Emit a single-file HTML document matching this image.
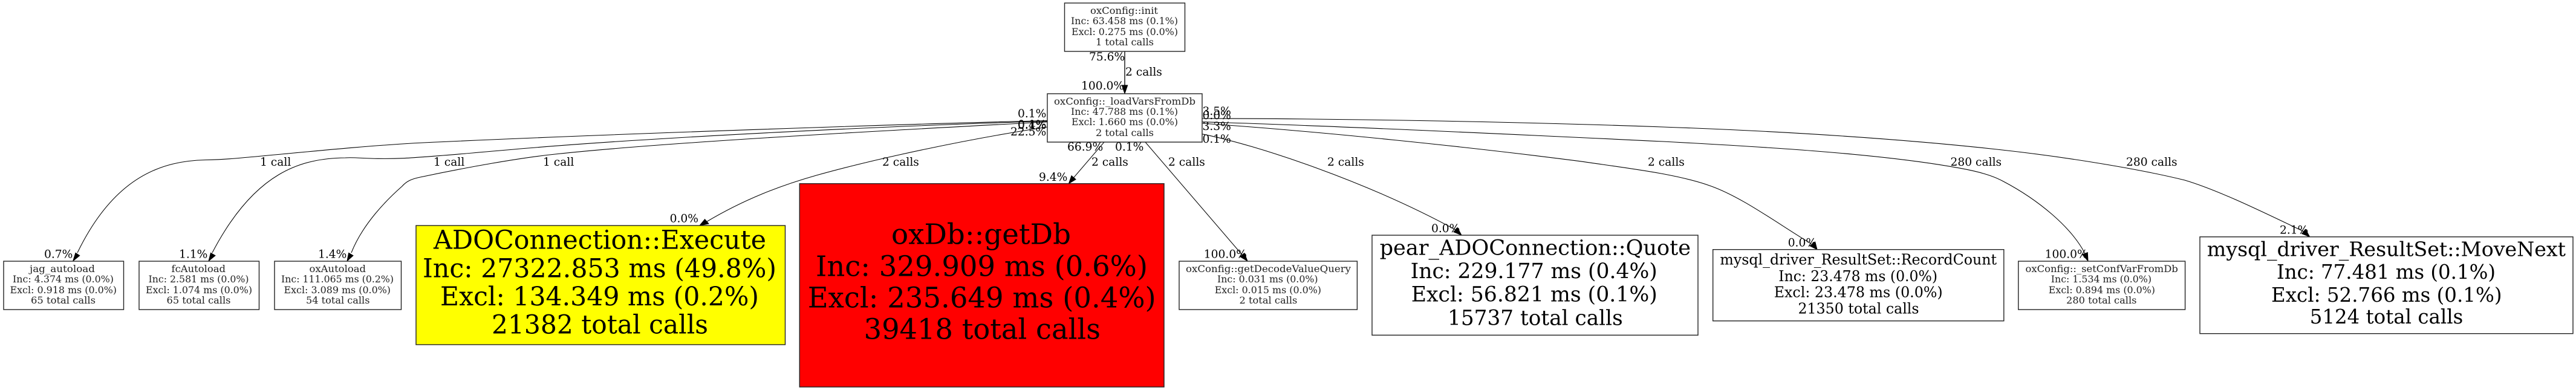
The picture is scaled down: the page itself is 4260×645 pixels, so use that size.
<!DOCTYPE html>
<html>
<head>
<meta charset="utf-8">
<title>Call graph</title>
<style>
html,body{margin:0;padding:0;background:#fff;width:4260px;height:645px;overflow:hidden}
svg{display:block}
text{font-family:"DejaVu Serif","Liberation Serif",serif;fill:#000}
.l{font-size:18.67px}
.s{font-size:16px;fill:#222}
.b{fill:#fff;stroke:#222;stroke-width:1.4}
.e{fill:none;stroke:#000;stroke-width:1.05}
.a{fill:#000;stroke:#000;stroke-width:1}
</style>
</head>
<body>
<svg xmlns="http://www.w3.org/2000/svg" width="4260" height="645" viewBox="0 0 4260 645">
<rect width="4260" height="645" fill="#fff"/>

<!-- edges -->
<path class="e" style="stroke-width:1.33" d="M1860 85V142"/>
<polygon class="a" points="1860,154.7 1855.3,141 1864.7,141"/>

<path class="e" d="M1732 199.5C1500 205,1000 222,700 236C600 241,470 255,400 261C380 263,360 264,340 264.5C270 266,190 290,128 418"/>
<polygon class="a" points="120.7,431.7 125,418.3 131.7,422.7"/>

<path class="e" d="M1732 200.5C1500 207,1100 226,873 245C790 252,720 259,668 261.7C650 262.5,640 262.5,625 262.3C600 262,585 260,571 261C500 262,422 282,351 418"/>
<polygon class="a" points="345,431.7 348.5,418.3 356,422.7"/>

<path class="e" d="M1732 201.7C1500 214,1100 235,918 255C860 261,770 277,695 293C680 296,672 300,665 308C640 330,600 370,581 418"/>
<polygon class="a" points="574,431.7 576.7,418.3 584,422.7"/>

<path class="e" d="M1732 210C1600 230,1450 262,1350 290C1290 307,1230 330,1168 367"/>
<polygon class="a" points="1157,373 1165.6,362.7 1172,370"/>

<path class="e" d="M1826 235L1775.7 293.6"/>
<polygon class="a" points="1767.4,303.7 1779,296.7 1772,290.6"/>

<path class="e" d="M1894 235L2054.3 421.6"/>
<polygon class="a" points="2063,431.7 2057.8,418.6 2050.8,424.6"/>

<path class="e" d="M1988 221.7C2080 240,2260 300,2407 380"/>
<polygon class="a" points="2417,389 2410.2,376.5 2403.9,383.5"/>

<path class="e" d="M1988 204C2180 217,2430 243,2613 266.7C2690 278,2770 287,2826.5 306.7C2880 325,2940 370,2995.6 403.4"/>
<polygon class="a" points="3005,412.7 3001.7,400 2993,406.7"/>

<path class="e" d="M1988 201.7C2150 206,2500 222,2750 234C2900 242,3100 253,3233 276.7C3270 283,3295 290,3313 300C3370 330,3425 375,3448 419.3"/>
<polygon class="a" points="3453,431.7 3452.3,417.6 3443.7,421"/>

<path class="e" d="M1988 196C2200 196,2500 201,2750 210C2950 217,3150 230,3311 248C3420 260,3540 280,3613 298C3670 315,3745 352,3809.7 382.9"/>
<polygon class="a" points="3819.7,391.7 3812.8,379.4 3806.6,386.4"/>

<!-- nodes -->
<rect class="b" x="1760.5" y="5" width="199" height="80"/>
<text class="s" x="1803" y="23" textLength="112" lengthAdjust="spacingAndGlyphs">oxConfig::init</text>
<text class="s" x="1771" y="40" textLength="177" lengthAdjust="spacingAndGlyphs">Inc: 63.458 ms (0.1%)</text>
<text class="s" x="1772" y="58" textLength="176" lengthAdjust="spacingAndGlyphs">Excl: 0.275 ms (0.0%)</text>
<text class="s" x="1812" y="75" textLength="96" lengthAdjust="spacingAndGlyphs">1 total calls</text>

<rect class="b" x="1732" y="155" width="256" height="80"/>
<text class="s" x="1743" y="173" textLength="234" lengthAdjust="spacingAndGlyphs">oxConfig::_loadVarsFromDb</text>
<text class="s" x="1771" y="190" textLength="177" lengthAdjust="spacingAndGlyphs">Inc: 47.788 ms (0.1%)</text>
<text class="s" x="1772" y="207" textLength="176" lengthAdjust="spacingAndGlyphs">Excl: 1.660 ms (0.0%)</text>
<text class="s" x="1812" y="225" textLength="96" lengthAdjust="spacingAndGlyphs">2 total calls</text>

<rect class="b" x="6" y="432" width="198.5" height="80"/>
<text class="s" x="49" y="450" textLength="108" lengthAdjust="spacingAndGlyphs">jag_autoload</text>
<text class="s" x="21" y="467" textLength="167" lengthAdjust="spacingAndGlyphs">Inc: 4.374 ms (0.0%)</text>
<text class="s" x="16.5" y="485" textLength="176.5" lengthAdjust="spacingAndGlyphs">Excl: 0.918 ms (0.0%)</text>
<text class="s" x="51" y="502" textLength="107" lengthAdjust="spacingAndGlyphs">65 total calls</text>

<rect class="b" x="230" y="432" width="198.5" height="80"/>
<text class="s" x="283.5" y="450" textLength="89.5" lengthAdjust="spacingAndGlyphs">fcAutoload</text>
<text class="s" x="245.5" y="467" textLength="166" lengthAdjust="spacingAndGlyphs">Inc: 2.581 ms (0.0%)</text>
<text class="s" x="241" y="485" textLength="176" lengthAdjust="spacingAndGlyphs">Excl: 1.074 ms (0.0%)</text>
<text class="s" x="275.5" y="502" textLength="106" lengthAdjust="spacingAndGlyphs">65 total calls</text>

<rect class="b" x="454" y="432" width="209.5" height="80"/>
<text class="s" x="511.5" y="450" textLength="93.5" lengthAdjust="spacingAndGlyphs">oxAutoload</text>
<text class="s" x="465" y="467" textLength="186" lengthAdjust="spacingAndGlyphs">Inc: 111.065 ms (0.2%)</text>
<text class="s" x="469.5" y="485" textLength="176.5" lengthAdjust="spacingAndGlyphs">Excl: 3.089 ms (0.0%)</text>
<text class="s" x="506" y="502" textLength="105.5" lengthAdjust="spacingAndGlyphs">54 total calls</text>

<rect class="b" x="688" y="373" width="610.5" height="197" style="fill:#ff0"/>
<text style="font-size:42.67px" x="717" y="411.7" textLength="550" lengthAdjust="spacingAndGlyphs">ADOConnection::Execute</text>
<text style="font-size:42.67px" x="699" y="458.3" textLength="585" lengthAdjust="spacingAndGlyphs">Inc: 27322.853 ms (49.8%)</text>
<text style="font-size:42.67px" x="728" y="505" textLength="527" lengthAdjust="spacingAndGlyphs">Excl: 134.349 ms (0.2%)</text>
<text style="font-size:42.67px" x="813" y="551.7" textLength="358" lengthAdjust="spacingAndGlyphs">21382 total calls</text>

<rect class="b" x="1322.3" y="303.7" width="602.7" height="336.3" style="fill:#f00"/>
<text style="font-size:46.67px" x="1474" y="403.3" textLength="297" lengthAdjust="spacingAndGlyphs">oxDb::getDb</text>
<text style="font-size:46.67px" x="1349" y="456.7" textLength="549" lengthAdjust="spacingAndGlyphs">Inc: 329.909 ms (0.6%)</text>
<text style="font-size:46.67px" x="1335.7" y="508.3" textLength="576" lengthAdjust="spacingAndGlyphs">Excl: 235.649 ms (0.4%)</text>
<text style="font-size:46.67px" x="1428.6" y="560.7" textLength="391.4" lengthAdjust="spacingAndGlyphs">39418 total calls</text>

<rect class="b" x="1950" y="432" width="294.4" height="80"/>
<text class="s" x="1961" y="450" textLength="273" lengthAdjust="spacingAndGlyphs">oxConfig::getDecodeValueQuery</text>
<text class="s" x="2013" y="467" textLength="166.6" lengthAdjust="spacingAndGlyphs">Inc: 0.031 ms (0.0%)</text>
<text class="s" x="2008.7" y="485" textLength="176.3" lengthAdjust="spacingAndGlyphs">Excl: 0.015 ms (0.0%)</text>
<text class="s" x="2049.5" y="502" textLength="95.9" lengthAdjust="spacingAndGlyphs">2 total calls</text>

<rect class="b" x="2269" y="389" width="539" height="165.3"/>
<text style="font-size:34.67px" x="2281.6" y="421.7" textLength="514.4" lengthAdjust="spacingAndGlyphs">pear_ADOConnection::Quote</text>
<text style="font-size:34.67px" x="2332.6" y="460" textLength="408.2" lengthAdjust="spacingAndGlyphs">Inc: 229.177 ms (0.4%)</text>
<text style="font-size:34.67px" x="2333.7" y="498.3" textLength="407.1" lengthAdjust="spacingAndGlyphs">Excl: 56.821 ms (0.1%)</text>
<text style="font-size:34.67px" x="2394" y="537.3" textLength="289.7" lengthAdjust="spacingAndGlyphs">15737 total calls</text>

<rect class="b" x="2832.7" y="412.7" width="481.1" height="118"/>
<text style="font-size:24px" x="2844.4" y="437.3" textLength="457.6" lengthAdjust="spacingAndGlyphs">mysql_driver_ResultSet::RecordCount</text>
<text style="font-size:24px" x="2941.3" y="465" textLength="262.7" lengthAdjust="spacingAndGlyphs">Inc: 23.478 ms (0.0%)</text>
<text style="font-size:24px" x="2933.7" y="491.7" textLength="279" lengthAdjust="spacingAndGlyphs">Excl: 23.478 ms (0.0%)</text>
<text style="font-size:24px" x="2973.5" y="518.3" textLength="200" lengthAdjust="spacingAndGlyphs">21350 total calls</text>

<rect class="b" x="3337.8" y="432" width="275.8" height="80"/>
<text class="s" x="3349.5" y="450" textLength="252.3" lengthAdjust="spacingAndGlyphs">oxConfig::_setConfVarFromDb</text>
<text class="s" x="3391.8" y="467" textLength="166.2" lengthAdjust="spacingAndGlyphs">Inc: 1.534 ms (0.0%)</text>
<text class="s" x="3387.8" y="485" textLength="176.2" lengthAdjust="spacingAndGlyphs">Excl: 0.894 ms (0.0%)</text>
<text class="s" x="3417" y="502" textLength="116.5" lengthAdjust="spacingAndGlyphs">280 total calls</text>

<rect class="b" x="3638" y="391.7" width="617" height="160"/>
<text style="font-size:33px" x="3649.8" y="423.3" textLength="593.2" lengthAdjust="spacingAndGlyphs">mysql_driver_ResultSet::MoveNext</text>
<text style="font-size:33px" x="3765" y="461" textLength="362" lengthAdjust="spacingAndGlyphs">Inc: 77.481 ms (0.1%)</text>
<text style="font-size:33px" x="3756" y="499" textLength="381.5" lengthAdjust="spacingAndGlyphs">Excl: 52.766 ms (0.1%)</text>
<text style="font-size:33px" x="3819.7" y="535" textLength="253.6" lengthAdjust="spacingAndGlyphs">5124 total calls</text>

<!-- edge labels -->
<text class="l" x="1801" y="100">75.6%</text>
<text class="l" x="1861" y="125">2 calls</text>
<text class="l" x="1788" y="148">100.0%</text>

<text class="l" x="1683" y="194">0.1%</text>
<text class="l" x="1683" y="212">0.1%</text>
<text class="l" x="1683" y="213">0.4%</text>
<text class="l" x="1671" y="224">22.5%</text>

<text class="l" x="1988.5" y="190">3.5%</text>
<text class="l" x="1988.5" y="197">0.0%</text>
<text class="l" x="1988.5" y="215">3.3%</text>
<text class="l" x="1988.5" y="236">0.1%</text>

<text class="l" x="1765" y="249">66.9%</text>
<text class="l" x="1844" y="249">0.1%</text>

<text class="l" x="430" y="274">1 call</text>
<text class="l" x="717" y="274">1 call</text>
<text class="l" x="898" y="274">1 call</text>
<text class="l" x="1459" y="274">2 calls</text>
<text class="l" x="1805" y="274">2 calls</text>
<text class="l" x="1932" y="274">2 calls</text>
<text class="l" x="2195" y="274">2 calls</text>
<text class="l" x="2725" y="274">2 calls</text>
<text class="l" x="3225.5" y="274">280 calls</text>
<text class="l" x="3516" y="274">280 calls</text>

<text class="l" x="1718" y="299">9.4%</text>
<text class="l" x="73" y="426.7">0.7%</text>
<text class="l" x="296" y="426.7">1.1%</text>
<text class="l" x="526" y="426.7">1.4%</text>
<text class="l" x="1107.6" y="367.7">0.0%</text>
<text class="l" x="1990.8" y="426.7">100.0%</text>
<text class="l" x="2367" y="384">0.0%</text>
<text class="l" x="2956.7" y="407.3">0.0%</text>
<text class="l" x="3381.6" y="426.7">100.0%</text>
<text class="l" x="3770" y="386.7">2.1%</text>
</svg>
</body>
</html>
